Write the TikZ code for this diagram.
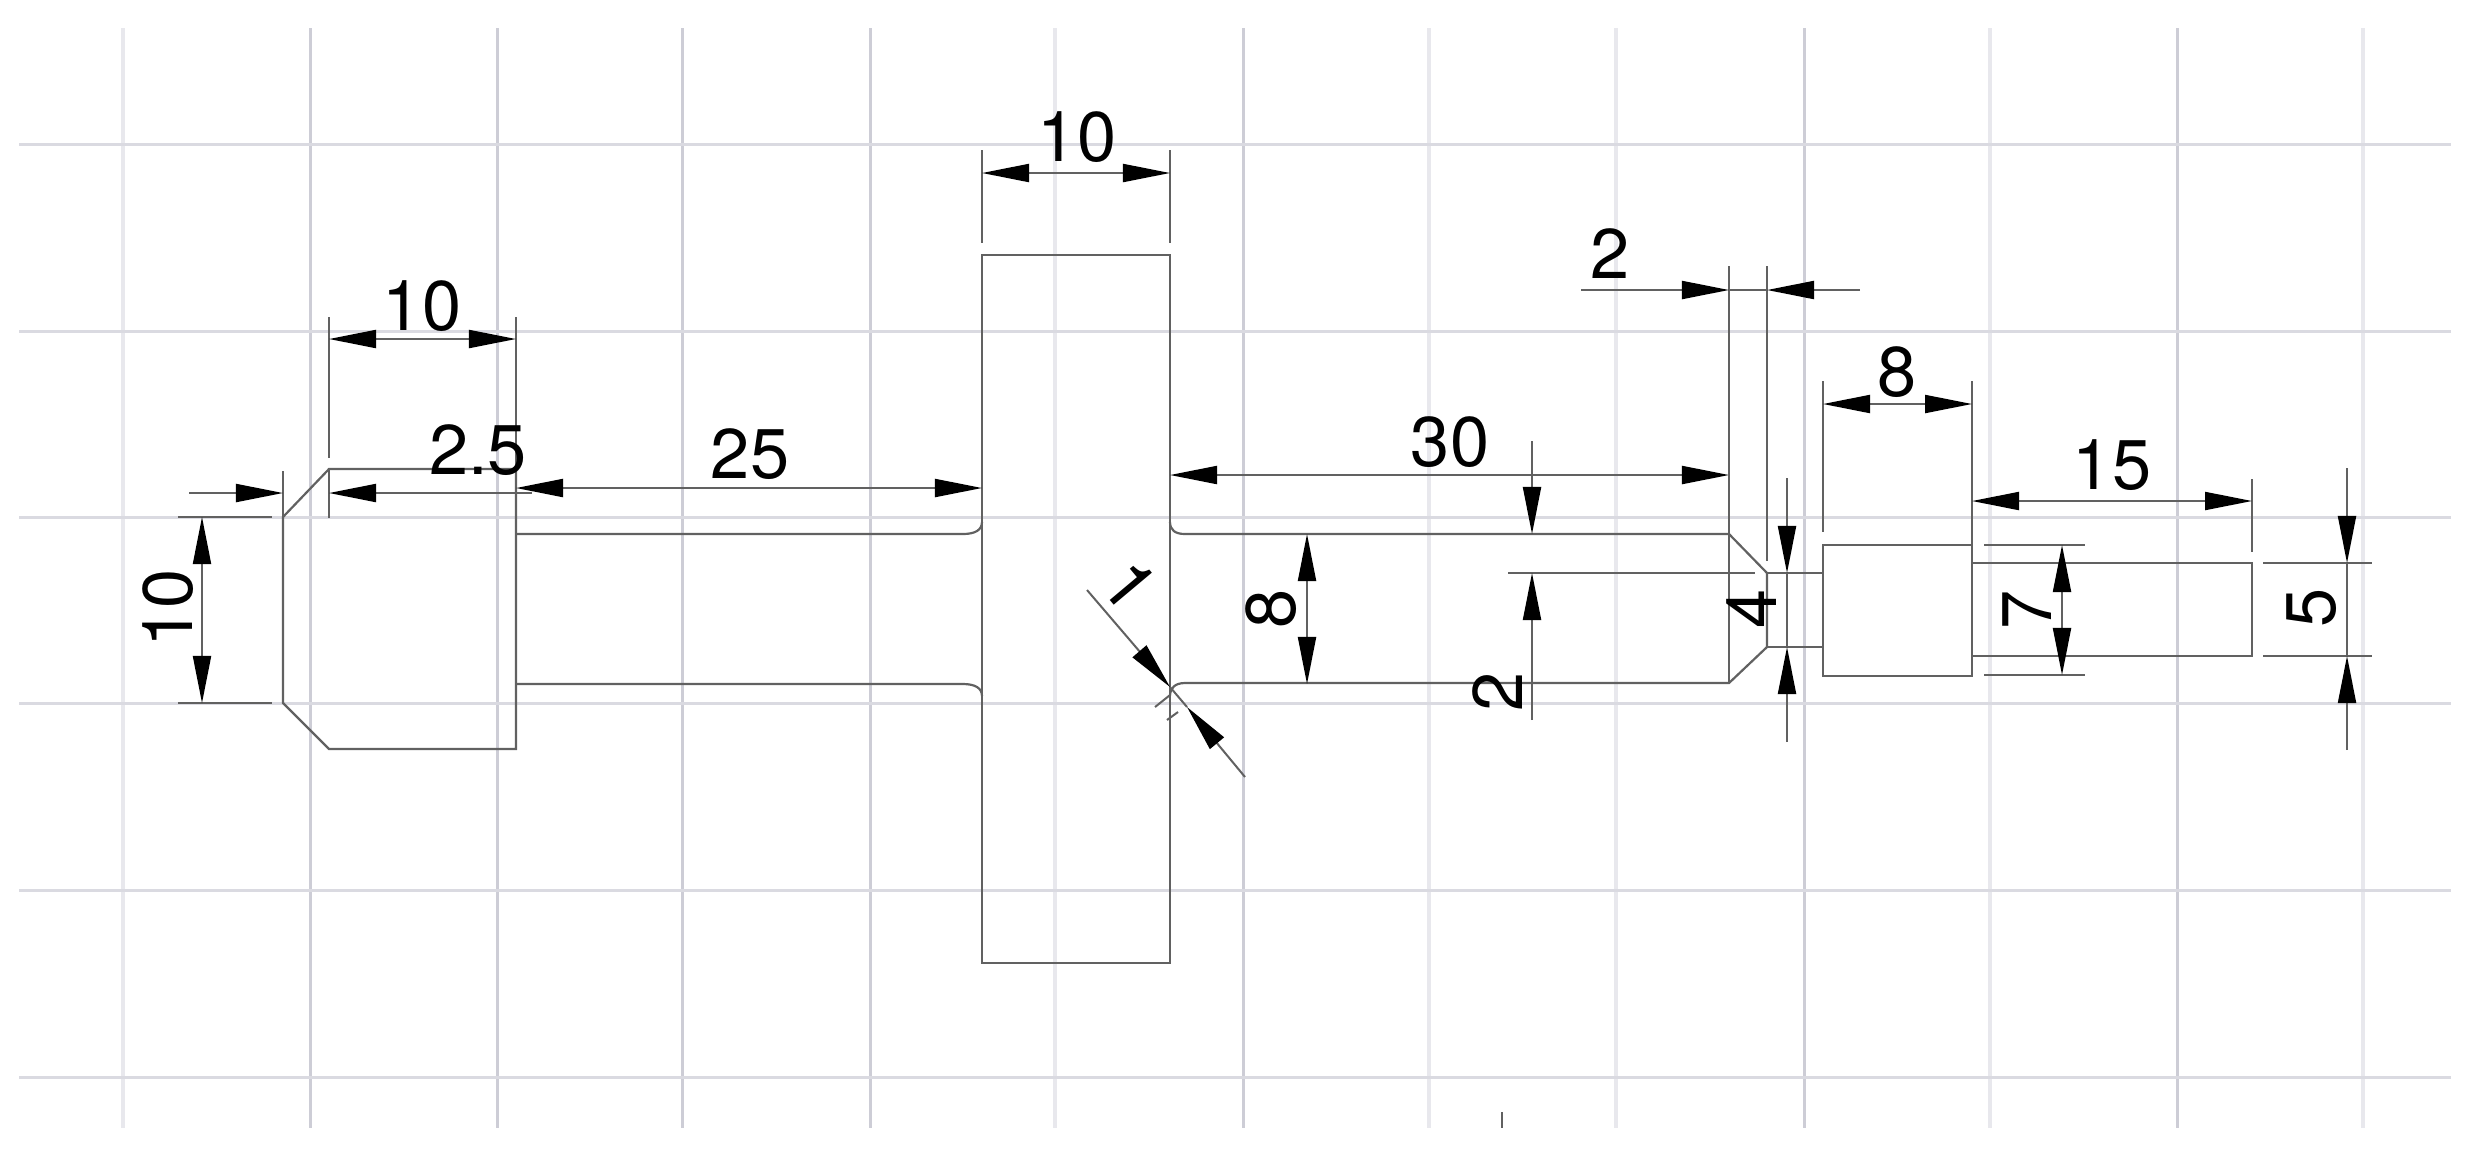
\documentclass[tikz,border=0pt]{standalone}
\usepackage{fontspec}
\setmainfont{TeX Gyre Heros}
\usetikzlibrary{arrows.meta}
\definecolor{gridpale}{RGB}{232,232,237}
\definecolor{gridmid}{RGB}{205,205,214}
\definecolor{gridrow}{RGB}{218,218,225}

\begin{document}
\begin{tikzpicture}[x=0.01cm, y=-0.01cm, >={Triangle[length=0.47cm, width=0.18cm, color=black]},
    gridlight/.style={draw=gridpale, line width=0.045cm},
    griddark/.style={draw=gridmid, line width=0.03cm},
    gridh/.style={draw=gridrow, line width=0.03cm},
    part/.style={draw=black!62, line width=0.022cm},
    dimline/.style={draw=black!62, line width=0.02cm},
    dimtext/.style={inner sep=0pt, font=\fontsize{20pt}{20pt}\selectfont}]
            \useasboundingbox (0,0) rectangle (2470,1160);

            % Grid
            \foreach \gx in {123,1055,1429,1616,1990,2363}
                \draw[gridlight] (\gx,28) -- (\gx,1128);
            \foreach \gx in {310,497,682,870,1243,1804,2177}
                \draw[griddark] (\gx,28) -- (\gx,1128);
            \foreach \gy in {144,331,517,703,890,1077}
                \draw[gridh] (19,\gy) -- (2451,\gy);
            \draw[part] (1502,1112) -- (1502,1128);

            % Left boss
            \draw[part] (329,469) -- (516,469) -- (516,749) -- (329,749) -- (283,703) -- (283,517) -- cycle;
            \draw[part] (516,534) -- (963,534) .. controls (975,534) and (982,530) .. (982,522);
            \draw[part] (516,684) -- (963,684) .. controls (975,684) and (982,688) .. (982,696);

            % Flange
            \draw[part] (982,255) rectangle (1170,963);

            % Right shaft
            \draw[part] (1170,522) .. controls (1170,530) and (1175,534) .. (1185,534) -- (1729,534) -- (1767,573) -- (1767,647) -- (1729,683) -- (1185,683) .. controls (1175,683) and (1170,688) .. (1170,696);
            \draw[part] (1767,573) -- (1823,573);
            \draw[part] (1767,647) -- (1823,647);
            \draw[part] (1823,545) rectangle (1972,676);
            \draw[part] (1972,563) -- (2252,563) -- (2252,656) -- (1972,656);

            % Left dimensions
            \draw[dimline] (329,317) -- (329,458);
            \draw[dimline] (516,317) -- (516,469);
            \draw[dimline, <->] (329,339) -- (516,339);
            \node[dimtext] (boss) at (422,306) {10};
            \draw[dimline] (283,471) -- (283,517);
            \draw[dimline] (329,469) -- (329,518);
            \draw[dimline, ->] (189,493) -- (283,493);
            \draw[dimline, ->] (532,493) -- (329,493);
            \node[dimtext] (chamfer) at (478,450) {2.5};
            \draw[dimline] (178,517) -- (272,517);
            \draw[dimline] (178,703) -- (272,703);
            \draw[dimline, <->] (202,517) -- (202,703);
            \node[dimtext, rotate=90] (bossdia) at (168,608) {10};
            \draw[dimline, <->] (516,488) -- (982,488);
            \node[dimtext] (shaftlen) at (750,454) {25};

            % Flange dimensions
            \draw[dimline] (982,150) -- (982,243);
            \draw[dimline] (1170,150) -- (1170,243);
            \draw[dimline, <->] (982,173) -- (1170,173);
            \node[dimtext] (flange) at (1077,137) {10};
            \draw[dimline, ->] (1087,590) -- (1170,687);
            \draw[dimline, ->] (1245,777) -- (1187,707);
            \draw[dimline] (1170,687) -- (1187,707);
            \draw[dimline] (1155,707) -- (1170,695);
            \draw[dimline] (1167,720) -- (1178,712);
            \node[dimtext, rotate=-50] (fillet) at (1130,585) {1};

            % Shaft dimensions
            \draw[dimline, <->] (1170,475) -- (1729,475);
            \node[dimtext] (rightlen) at (1450,442) {30};
            \draw[dimline, <->] (1307,534) -- (1307,684);
            \node[dimtext, rotate=90] (shaftdia) at (1271,609) {8};
            \draw[dimline] (1508,573) -- (1755,573);
            \draw[dimline, ->] (1532,441) -- (1532,534);
            \draw[dimline, ->] (1532,720) -- (1532,573);
            \node[dimtext, rotate=90] (stepdia) at (1498,692) {2};

            % Neck dimensions
            \draw[dimline] (1729,266) -- (1729,683);
            \draw[dimline] (1767,266) -- (1767,561);
            \draw[dimline, ->] (1581,290) -- (1729,290);
            \draw[dimline, ->] (1860,290) -- (1767,290);
            \draw[dimline] (1729,290) -- (1767,290);
            \node[dimtext] (neck) at (1610,254) {2};
            \draw[dimline, ->] (1787,478) -- (1787,573);
            \draw[dimline, ->] (1787,742) -- (1787,647);
            \draw[dimline] (1787,573) -- (1787,647);
            \node[dimtext, rotate=90] (neckdia) at (1752,609) {4};

            % Block dimensions
            \draw[dimline] (1823,381) -- (1823,532);
            \draw[dimline] (1972,381) -- (1972,545);
            \draw[dimline, <->] (1823,404) -- (1972,404);
            \node[dimtext] (block) at (1897,372) {8};
            \draw[dimline] (1984,545) -- (2085,545);
            \draw[dimline] (1984,675) -- (2085,675);
            \draw[dimline, <->] (2062,545) -- (2062,675);
            \node[dimtext, rotate=90] (blockdia) at (2027,610) {7};

            % End shaft dimensions
            \draw[dimline] (2252,479) -- (2252,552);
            \draw[dimline, <->] (1972,501) -- (2252,501);
            \node[dimtext] (endlen) at (2112,465) {15};
            \draw[dimline] (2263,563) -- (2372,563);
            \draw[dimline] (2263,656) -- (2372,656);
            \draw[dimline, ->] (2347,468) -- (2347,563);
            \draw[dimline, ->] (2347,750) -- (2347,656);
            \draw[dimline] (2347,563) -- (2347,656);
            \node[dimtext, rotate=90] (enddia) at (2312,608) {5};
        \end{tikzpicture}
\end{document}
